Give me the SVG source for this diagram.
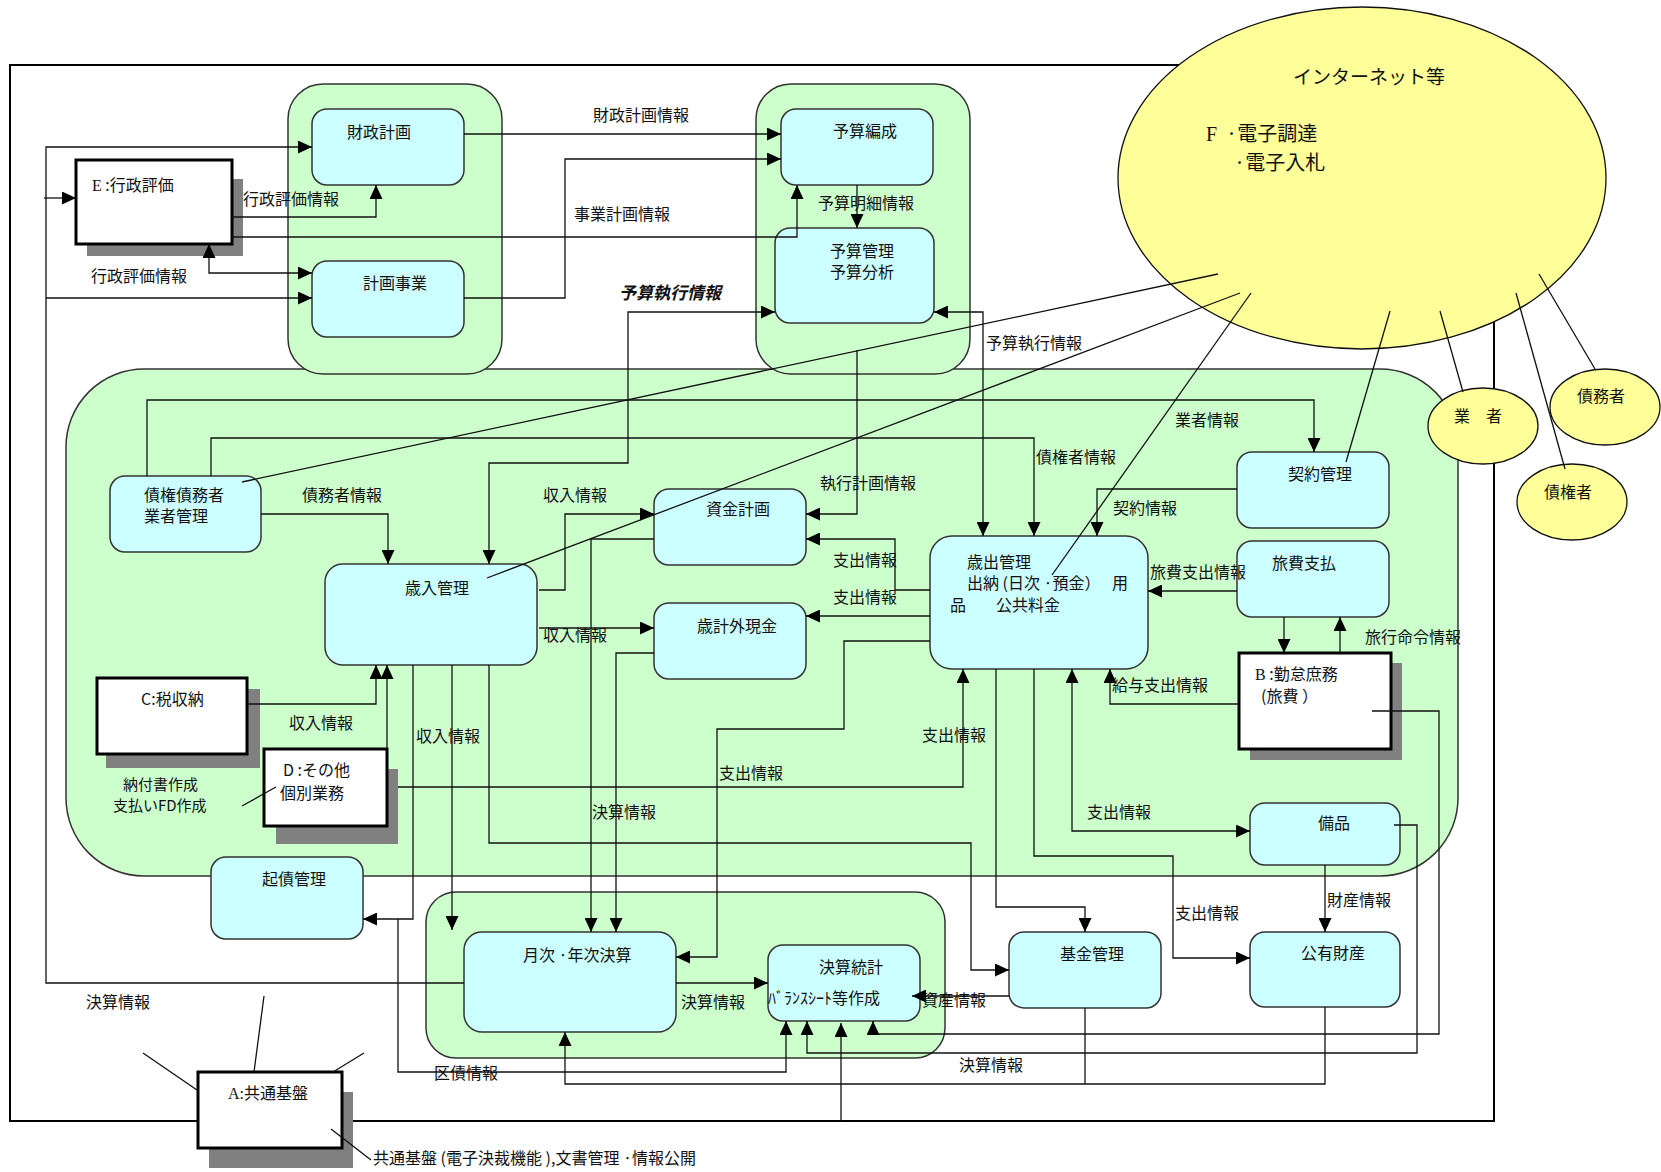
<svg xmlns="http://www.w3.org/2000/svg" width="1661" height="1172" viewBox="0 0 1661 1172">
<defs>
<style>
.c{fill:none;stroke:#111;stroke-width:1.3}
.a{marker-end:url(#ah)}
.s{marker-start:url(#ahs)}
.bx{fill:#CCFFFF;stroke:#333;stroke-width:1.5}
.grp{fill:#CCFFCC;stroke:#333;stroke-width:1.5}
.ext{fill:#fff;stroke:#000;stroke-width:3}
.sh{fill:#808080}
.el{fill:#FFFF99;stroke:#111;stroke-width:1.3}
text{font-family:"Noto Sans CJK JP","Noto Sans CJK SC",sans-serif;font-size:16px;fill:#111}
.sf{font-family:"Liberation Serif","Noto Sans CJK JP",serif}
.bi{font-weight:bold;font-style:italic;font-size:17px}
.sm{font-size:15px}
</style>
<marker id="ah" markerWidth="14" markerHeight="13" refX="14" refY="6.5" orient="auto" markerUnits="userSpaceOnUse"><path d="M0,0 L14,6.5 L0,13 z" fill="#000"/></marker>
<marker id="ahs" markerWidth="14" markerHeight="13" refX="14" refY="6.5" orient="auto-start-reverse" markerUnits="userSpaceOnUse"><path d="M0,0 L14,6.5 L0,13 z" fill="#000"/></marker>
</defs>
<rect x="0" y="0" width="1661" height="1172" fill="#fff"/>
<g id="frame"><rect x="10" y="65" width="1484" height="1056" fill="none" stroke="#000" stroke-width="2"/></g>
<g id="containers">
<rect class="grp" x="66" y="369" width="1392" height="507" rx="78" ry="78"/>
<rect class="grp" x="288" y="84" width="214" height="290" rx="35" ry="35"/>
<rect class="grp" x="756" y="84" width="214" height="290" rx="35" ry="35"/>
<rect class="grp" x="426" y="892" width="519" height="166" rx="30" ry="30"/>
</g>
<g id="internet"><ellipse class="el" cx="1362" cy="178" rx="244" ry="171"/>
<text x="1293" y="84" style="font-size:19px">インターネット等</text>
<text x="1206" y="141" style="font-size:20px"><tspan class="sf">F</tspan><tspan x="1226">·電子調達</tspan></text>
<text x="1234" y="170" style="font-size:20px">·電子入札</text></g>
<g id="gyosha"><ellipse class="el" cx="1483" cy="426" rx="55" ry="38"/><text x="1454" y="422">業　者</text></g>
<g id="saimusha"><ellipse class="el" cx="1605" cy="407" rx="55" ry="38"/><text x="1577" y="402">債務者</text></g>
<g id="saikensha"><ellipse class="el" cx="1572" cy="502" rx="55" ry="38"/><text x="1544" y="498">債権者</text></g>
<g id="zaisei"><rect class="bx" x="312" y="109" width="152" height="76" rx="15"/><text x="347" y="138">財政計画</text></g>
<g id="keikaku"><rect class="bx" x="312" y="261" width="152" height="76" rx="15"/><text x="363" y="289">計画事業</text></g>
<g id="yosanhensei"><rect class="bx" x="781" y="109" width="152" height="76" rx="15"/><text x="833" y="137">予算編成</text></g>
<g id="yosankanri"><rect class="bx" x="775" y="228" width="159" height="95" rx="15"/><text x="830" y="257">予算管理</text><text x="830" y="278">予算分析</text></g>
<g id="E"><rect class="sh" x="87" y="179" width="156" height="77"/><rect class="ext" x="76" y="160" width="156" height="84"/><text x="92" y="191"><tspan class="sf">E</tspan> :行政評価</text></g>
<g id="saiken"><rect class="bx" x="110" y="476" width="151" height="76" rx="15"/><text x="144" y="501">債権債務者</text><text x="144" y="522">業者管理</text></g>
<g id="sainyu"><rect class="bx" x="325" y="564" width="212" height="101" rx="18"/><text x="405" y="594">歳入管理</text></g>
<g id="shikin"><rect class="bx" x="654" y="489" width="152" height="76" rx="15"/><text x="706" y="515">資金計画</text></g>
<g id="saikeigai"><rect class="bx" x="654" y="603" width="152" height="76" rx="15"/><text x="697" y="632">歳計外現金</text></g>
<g id="saishutsu"><rect class="bx" x="930" y="536" width="218" height="133" rx="22"/><text x="967" y="568">歳出管理</text><text x="967" y="589">出納 (日次 ·預金）</text><text x="1112" y="589">用</text><text x="950" y="611">品</text><text x="996" y="611">公共料金</text></g>
<g id="keiyaku"><rect class="bx" x="1237" y="452" width="152" height="76" rx="15"/><text x="1288" y="480">契約管理</text></g>
<g id="ryohi"><rect class="bx" x="1237" y="541" width="152" height="76" rx="15"/><text x="1272" y="569">旅費支払</text></g>
<g id="B"><rect class="sh" x="1250" y="663" width="152" height="97"/><rect class="ext" x="1239" y="653" width="152" height="96"/><text x="1255" y="680"><tspan class="sf">B</tspan> :勤怠庶務</text><text x="1261" y="702">(旅費 ）</text></g>
<g id="bihin"><rect class="bx" x="1250" y="803" width="150" height="62" rx="15"/><text x="1318" y="829">備品</text></g>
<g id="koyu"><rect class="bx" x="1250" y="932" width="150" height="75" rx="15"/><text x="1301" y="959">公有財産</text></g>
<g id="kikin"><rect class="bx" x="1009" y="932" width="152" height="76" rx="15"/><text x="1060" y="960">基金管理</text></g>
<g id="kessantokei"><rect class="bx" x="768" y="945" width="152" height="76" rx="15"/><text x="819" y="973">決算統計</text><text x="768" y="1004">ﾊﾞﾗﾝｽｼｰﾄ等作成</text></g>
<g id="getsuji"><rect class="bx" x="464" y="932" width="212" height="100" rx="18"/><text x="523" y="961">月次 ·年次決算</text></g>
<g id="kisai"><rect class="bx" x="211" y="857" width="152" height="82" rx="15"/><text x="262" y="885">起債管理</text></g>
<g id="C"><rect class="sh" x="106" y="689" width="154" height="79"/><rect class="ext" x="97" y="678" width="150" height="76"/><text x="141" y="705">C:税収納</text></g>
<g id="D"><rect class="sh" x="276" y="769" width="122" height="75"/><rect class="ext" x="264" y="749" width="123" height="77"/><text x="283" y="776">D :その他</text><text x="280" y="799">個別業務</text></g>
<g id="A"><rect class="sh" x="209" y="1092" width="144" height="76"/><rect class="ext" x="198" y="1072" width="144" height="76"/><text x="228" y="1099"><tspan class="sf">A:</tspan>共通基盤</text></g>
<g id="connectors">
<path class="c a" d="M464,983 H46 V147 H312"/>
<path class="c a" d="M44,198 H76"/>
<path class="c a" d="M46,298 H312"/>
<path class="c a" d="M232,217 H376 V185"/>
<path class="c a" d="M232,237 H797 V185"/>
<path class="c a s" d="M209,244 V273 H312"/>
<path class="c a" d="M464,134 H781"/>
<path class="c a" d="M464,298 H565 V159 H781"/>
<path class="c a" d="M857,185 V228"/>
<path class="c a s" d="M775,312 H628 V463 H489 V564"/>
<path class="c a s" d="M934,312 H983 V536"/>
<path class="c a" d="M857,350 V514 H806"/>
<path class="c a" d="M147,476 V400 H1314 V452"/>
<path class="c a" d="M211,476 V438 H1034 V536"/>
<path class="c a" d="M261,514 H388 V564"/>
<path class="c a" d="M539,590 H565 V514 H654"/>
<path class="c a" d="M539,628 H654"/>
<path class="c a" d="M654,539 H591 V932"/>
<path class="c a" d="M654,653 H616 V932"/>
<path class="c a" d="M247,704 H376 V665"/>
<path class="c a" d="M387,749 V665"/>
<path class="c a" d="M398,787 H963 V669"/>
<path class="c a" d="M413,665 V919 H363"/>
<path class="c a" d="M398,919 V1072 H786 V1021"/>
<path class="c a" d="M452,665 V930"/>
<path class="c a" d="M489,665 V843 H971 V970 H1009"/>
<path class="c a" d="M930,590 H895 V539 H806"/>
<path class="c a" d="M930,616 H806"/>
<path class="c a" d="M930,641 H844 V729 H717 V957 H676"/>
<path class="c a" d="M1237,489 H1097 V536"/>
<path class="c a" d="M1237,591 H1148"/>
<path class="c a" d="M1284,617 V653"/>
<path class="c a" d="M1340,653 V617"/>
<path class="c a" d="M1239,704 H1110 V669"/>
<path class="c a s" d="M1072,669 V831 H1250"/>
<path class="c a" d="M1034,669 V856 H1173 V958 H1250"/>
<path class="c a" d="M996,669 V907 H1085 V932"/>
<path class="c a" d="M1325,865 V932"/>
<path class="c a" d="M676,983 H768"/>
<path class="c a" d="M1009,996 H912"/>
<path class="c" d="M1085,1008 V1084"/>
<path class="c a" d="M1325,1007 V1084 H565 V1032"/>
<path class="c a" d="M1372,711 H1439 V1034 H873 V1021"/>
<path class="c a" d="M1394,825 H1417 V1053 H807 V1021"/>
<path class="c a" d="M841,1121 V1023"/>
<path class="c" d="M242,482 L1218,274"/>
<path class="c" d="M487,578 L1240,293"/>
<path class="c" d="M1052,575 L1251,293"/>
<path class="c" d="M1346,462 L1390,311"/>
<path class="c" d="M1440,311 L1463,392"/>
<path class="c" d="M1516,293 L1565,469"/>
<path class="c" d="M1539,274 L1595,369"/>
<path class="c" d="M242,806 L276,787"/>
<path class="c" d="M143,1053 L197,1090"/>
<path class="c" d="M264,996 L254,1072"/>
<path class="c" d="M364,1053 L333,1072"/>
<path class="c" d="M331,1129 L371,1160"/>
</g>
<g id="labels">
<text x="593" y="121">財政計画情報</text>
<text x="243" y="205">行政評価情報</text>
<text x="91" y="282">行政評価情報</text>
<text x="574" y="220">事業計画情報</text>
<text class="bi" x="619" y="299">予算執行情報</text>
<text x="818" y="209">予算明細情報</text>
<text x="986" y="349">予算執行情報</text>
<text x="1175" y="426">業者情報</text>
<text x="1036" y="463">債権者情報</text>
<text x="1113" y="514">契約情報</text>
<text x="302" y="501">債務者情報</text>
<text x="543" y="501">収入情報</text>
<text x="820" y="489">執行計画情報</text>
<text x="833" y="566">支出情報</text>
<text x="833" y="603">支出情報</text>
<text x="1150" y="578">旅費支出情報</text>
<text x="543" y="641">収入情報</text>
<text x="1365" y="643">旅行命令情報</text>
<text x="1112" y="691">給与支出情報</text>
<text x="289" y="729">収入情報</text>
<text x="416" y="742">収入情報</text>
<text x="922" y="741">支出情報</text>
<text x="719" y="779">支出情報</text>
<text class="sm" x="123" y="790">納付書作成</text>
<text class="sm" x="113" y="811">支払いFD作成</text>
<text x="592" y="818">決算情報</text>
<text x="1087" y="818">支出情報</text>
<text x="1327" y="906">財産情報</text>
<text x="1175" y="919">支出情報</text>
<text x="86" y="1008">決算情報</text>
<text x="681" y="1008">決算情報</text>
<text x="922" y="1006">資産情報</text>
<text x="959" y="1071">決算情報</text>
<text x="434" y="1079">区債情報</text>
<text x="373" y="1164">共通基盤 (電子決裁機能 ),文書管理 ·情報公開</text>
</g>
</svg>
